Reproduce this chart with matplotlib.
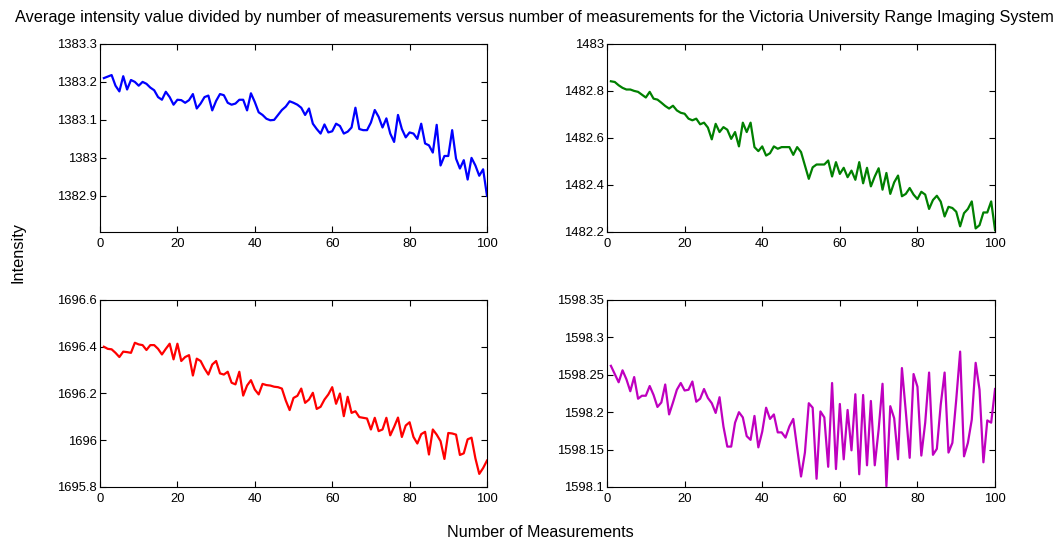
import numpy as np
import matplotlib
matplotlib.use("Agg")
import matplotlib.pyplot as plt
from matplotlib.ticker import FormatStrFormatter

measurements = np.arange(1, 101)

blue_vals = [
    1383.210, 1383.214, 1383.218, 1383.190, 1383.175, 1383.215, 1383.180, 1383.205, 1383.200, 1383.190,
    1383.200, 1383.195, 1383.185, 1383.178, 1383.160, 1383.153, 1383.174, 1383.160, 1383.140, 1383.153,
    1383.152, 1383.145, 1383.152, 1383.168, 1383.130, 1383.143, 1383.160, 1383.164, 1383.125, 1383.150,
    1383.168, 1383.165, 1383.145, 1383.140, 1383.143, 1383.153, 1383.153, 1383.125, 1383.170, 1383.147,
    1383.120, 1383.113, 1383.103, 1383.099, 1383.100, 1383.113, 1383.126, 1383.135, 1383.149, 1383.145,
    1383.140, 1383.132, 1383.113, 1383.130, 1383.090, 1383.076, 1383.064, 1383.088, 1383.067, 1383.070,
    1383.090, 1383.084, 1383.064, 1383.069, 1383.080, 1383.132, 1383.076, 1383.073, 1383.073, 1383.093,
    1383.126, 1383.108, 1383.080, 1383.104, 1383.064, 1383.042, 1383.113, 1383.076, 1383.054, 1383.067,
    1383.064, 1383.050, 1383.090, 1383.038, 1383.033, 1383.014, 1383.087, 1382.980, 1383.005, 1383.005,
    1383.073, 1382.998, 1382.972, 1382.994, 1382.943, 1383.000, 1382.980, 1382.953, 1382.970, 1382.900,
]

green_vals = [
    1482.841, 1482.838, 1482.824, 1482.813, 1482.806, 1482.806, 1482.800, 1482.796, 1482.784, 1482.772,
    1482.796, 1482.767, 1482.763, 1482.750, 1482.736, 1482.725, 1482.737, 1482.717, 1482.707, 1482.703,
    1482.682, 1482.675, 1482.682, 1482.658, 1482.665, 1482.644, 1482.594, 1482.660, 1482.625, 1482.646,
    1482.635, 1482.596, 1482.625, 1482.564, 1482.665, 1482.625, 1482.665, 1482.561, 1482.544, 1482.564,
    1482.525, 1482.535, 1482.564, 1482.554, 1482.561, 1482.561, 1482.561, 1482.528, 1482.561, 1482.540,
    1482.483, 1482.426, 1482.475, 1482.487, 1482.487, 1482.487, 1482.504, 1482.436, 1482.497, 1482.447,
    1482.473, 1482.433, 1482.461, 1482.422, 1482.497, 1482.407, 1482.473, 1482.394, 1482.436, 1482.471,
    1482.380, 1482.451, 1482.362, 1482.411, 1482.440, 1482.352, 1482.362, 1482.387, 1482.359, 1482.340,
    1482.371, 1482.359, 1482.298, 1482.336, 1482.354, 1482.329, 1482.266, 1482.307, 1482.302, 1482.286,
    1482.224, 1482.280, 1482.298, 1482.330, 1482.215, 1482.229, 1482.283, 1482.283, 1482.330, 1482.208,
]

red_vals = [
    1696.400, 1696.391, 1696.389, 1696.374, 1696.356, 1696.379, 1696.377, 1696.374, 1696.417, 1696.410,
    1696.407, 1696.386, 1696.407, 1696.407, 1696.391, 1696.367, 1696.391, 1696.413, 1696.346, 1696.413,
    1696.339, 1696.356, 1696.364, 1696.277, 1696.349, 1696.339, 1696.307, 1696.281, 1696.324, 1696.339,
    1696.286, 1696.281, 1696.293, 1696.246, 1696.239, 1696.293, 1696.191, 1696.234, 1696.257, 1696.217,
    1696.196, 1696.241, 1696.236, 1696.234, 1696.229, 1696.227, 1696.221, 1696.170, 1696.129, 1696.181,
    1696.190, 1696.221, 1696.160, 1696.174, 1696.203, 1696.134, 1696.143, 1696.174, 1696.196, 1696.227,
    1696.156, 1696.200, 1696.103, 1696.186, 1696.117, 1696.124, 1696.099, 1696.096, 1696.093, 1696.046,
    1696.096, 1696.039, 1696.046, 1696.096, 1696.021, 1696.057, 1696.097, 1696.014, 1696.063, 1696.077,
    1696.014, 1695.986, 1696.026, 1696.036, 1695.939, 1696.046, 1696.024, 1695.996, 1695.920, 1696.031,
    1696.029, 1696.024, 1695.937, 1695.944, 1696.004, 1696.011, 1695.923, 1695.856, 1695.881, 1695.913,
]

magenta_vals = [
    1598.262, 1598.251, 1598.240, 1598.256, 1598.244, 1598.228, 1598.247, 1598.218, 1598.222, 1598.222,
    1598.235, 1598.223, 1598.207, 1598.213, 1598.237, 1598.197, 1598.213, 1598.230, 1598.239, 1598.229,
    1598.230, 1598.241, 1598.214, 1598.218, 1598.231, 1598.219, 1598.212, 1598.199, 1598.220, 1598.181,
    1598.154, 1598.154, 1598.186, 1598.200, 1598.193, 1598.168, 1598.163, 1598.195, 1598.153, 1598.174,
    1598.206, 1598.191, 1598.197, 1598.173, 1598.173, 1598.166, 1598.181, 1598.191, 1598.152, 1598.114,
    1598.146, 1598.212, 1598.206, 1598.111, 1598.201, 1598.193, 1598.127, 1598.239, 1598.124, 1598.211,
    1598.137, 1598.203, 1598.149, 1598.224, 1598.117, 1598.223, 1598.129, 1598.215, 1598.129, 1598.177,
    1598.238, 1598.101, 1598.208, 1598.192, 1598.137, 1598.259, 1598.201, 1598.139, 1598.251, 1598.234,
    1598.142, 1598.186, 1598.253, 1598.143, 1598.151, 1598.210, 1598.253, 1598.146, 1598.159, 1598.217,
    1598.281, 1598.141, 1598.159, 1598.190, 1598.266, 1598.230, 1598.133, 1598.189, 1598.186, 1598.231,
]

x_ticks = [0, 20, 40, 60, 80, 100]
blue_ticks = [1382.9, 1383.0, 1383.1, 1383.2, 1383.3]
green_ticks = [1482.2, 1482.4, 1482.6, 1482.8, 1483.0]
red_ticks = [1695.8, 1696.0, 1696.2, 1696.4, 1696.6]
magenta_ticks = [1598.10, 1598.15, 1598.20, 1598.25, 1598.30, 1598.35]

plt.rcParams["font.family"] = ["Liberation Sans", "DejaVu Sans"]

fig = plt.figure(figsize=(10.64, 5.42), dpi=100)

panels = [
    ([0.094, 0.572, 0.3637, 0.347], blue_vals, (0, 0, 1), blue_ticks, (1382.805, 1383.3)),
    ([0.5705, 0.572, 0.3647, 0.347], green_vals, (0, 0.5, 0), green_ticks, (1482.2, 1483.0)),
    ([0.094, 0.1015, 0.3637, 0.345], red_vals, (1, 0, 0), red_ticks, (1695.8, 1696.6)),
    ([0.5705, 0.1015, 0.3647, 0.345], magenta_vals, (0.75, 0, 0.75), magenta_ticks, (1598.1, 1598.35)),
]

for rect, vals, color, yt, ylim in panels:
    ax = fig.add_axes(rect)
    ax.plot(measurements, vals, color=color, linewidth=1.6)
    ax.set_xlim(0, 100)
    ax.set_ylim(*ylim)
    ax.set_xticks(x_ticks)
    ax.set_yticks(yt)
    ax.yaxis.set_major_formatter(FormatStrFormatter("%g"))
    ax.tick_params(direction="in", top=True, right=True, labelsize=9.4,
                   length=4, width=0.8)
    ax.tick_params(axis="y", pad=2)
    ax.tick_params(axis="x", pad=4)
    for s in ax.spines.values():
        s.set_linewidth(0.8)

fig.text(0.502, 0.967, "Average intensity value divided by number of measurements versus number of "
         "measurements for the Victoria University Range Imaging System",
         ha="center", va="center", fontsize=11.7)
fig.text(0.508, 0.018, "Number of Measurements", ha="center", va="center", fontsize=11.6)
fig.text(0.017, 0.535, "Intensity", ha="center", va="center", rotation=90, fontsize=11.8)

fig.savefig("out.png", dpi=100)
